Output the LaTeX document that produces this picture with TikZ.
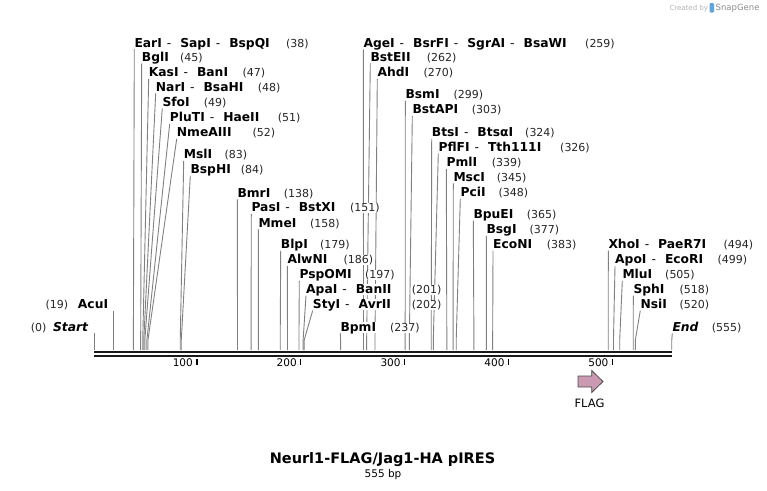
\documentclass[tikz,border=0pt]{standalone}
\usepackage{fontspec}
\setmainfont{DejaVu Sans}
\usetikzlibrary{backgrounds}

\definecolor{cutgray}{RGB}{128,128,128}
\definecolor{flagpink}{RGB}{204,153,179}
\definecolor{snapblue}{RGB}{95,165,220}
\newcommand\enzfont{\fontsize{12.3}{14}\selectfont\bfseries}
\newcommand\numfont{\fontsize{11}{13}\selectfont}
\newcommand\enzsep{\hspace{5pt}\textmd{-}\hspace{9pt}}

\tikzset{
  enzyme/.style={anchor=base west, inner sep=0pt, fill=white, font=\enzfont,
    text height=9pt, text depth=2pt},
  sitenum/.style={anchor=base west, inner sep=0pt, fill=white, font=\numfont,
    text=black!85},
  cutline/.style={draw=cutgray, line width=0.9pt},
}

\begin{document}
\begin{tikzpicture}[x=1pt, y=-1pt]
  \useasboundingbox (0,0) rectangle (767,490);

  % enzyme sites: label x / label y / cut position / number x / names
  \foreach \lx/\yc/\bp/\nx/\names [count=\i] in {
      134.3/42.7/38/286/EarI\enzsep SapI\enzsep BspQI,
      141.7/56.7/45/180/BglI,
      148.7/72.3/47/242.3/KasI\enzsep BanI,
      155.7/86.7/48/257.7/NarI\enzsep BsaHI,
      162.3/101.7/49/203.7/SfoI,
      169.7/117.3/51/277.7/PluTI\enzsep HaeII,
      176.7/132.3/52/252.3/NmeAIII,
      183.7/154.3/83/224.3/MslI,
      190.3/169.3/84/240.7/BspHI,
      237.3/192.7/138/283.7/BmrI,
      251.3/207.3/151/350/PasI\enzsep BstXI,
      258.3/222.7/158/310/MmeI,
      280.7/244/179/320/BlpI,
      287.3/259.3/186/343.3/AlwNI,
      299.3/274.3/197/365/PspOMI,
      306/289/201/411.7/ApaI\enzsep BanII,
      312.7/304/202/411.7/StyI\enzsep AvrII,
      340.3/326.7/237/390/BpmI,
      363.3/42.7/259/585/AgeI\enzsep BsrFI\enzsep SgrAI\enzsep BsaWI,
      370.3/56.7/262/426.7/BstEII,
      377.3/72.3/270/423.3/AhdI,
      405.3/94/299/453.3/BsmI,
      412.3/109.3/303/471.7/BstAPI,
      431.7/132.3/324/525/BtsI\enzsep BtsαI,
      438.3/146.7/326/560/PflFI\enzsep Tth111I,
      446.3/162.3/339/491.7/PmlI,
      453.3/176.7/345/496.7/MscI,
      460.3/192.3/348/498.3/PciI,
      473.3/214/365/526.7/BpuEI,
      486.3/229.3/377/529.3/BsgI,
      493/244/383/546.7/EcoNI,
      608.3/244/494/723.3/XhoI\enzsep PaeR7I,
      615/259.3/499/717.3/ApoI\enzsep EcoRI,
      622.3/274.3/505/665/MluI,
      633.3/289/518/679.3/SphI,
      640.3/304/520/679.3/NsiI,
      672.3/326.7/555/711.7/\itshape End} {
    \node[enzyme] (enz\i) at (\lx,\yc+4.4) {\names};
    \node[sitenum] (num\i) at (\nx,\yc+4.4) {(\bp)};
    \coordinate (cut\i) at ({93.8+1.0414*\bp},340);
    \coordinate (bb\i) at ({93.8+1.0414*\bp},350);
    \begin{scope}[on background layer]
      \draw[cutline] (enz\i.south west) -- (cut\i) -- (bb\i);
    \end{scope}
  }

  % sites labelled on the left
  \node[enzyme, anchor=base east] (acu) at (108.3,308.4) {AcuI};
  \node[sitenum] (acunum) at (45.3,308.4) {(19)};
  \coordinate (acubb) at (113.6,350);
  \node[enzyme, anchor=base east] (start) at (88.3,331.1) {\itshape Start};
  \node[sitenum] (startnum) at (30.7,331.1) {(0)};
  \coordinate (startbb) at (94,350);
  \draw[cutline] (acubb |- acu.south) -- (acubb);
  \draw[cutline] (startbb |- start.south) -- (startbb);

  % sequence
  \coordinate (seqstart) at (94,352.2);
  \coordinate (seqend) at (672.3,352.2);
  \draw[line width=2.4pt, black!90] (seqstart) -- (seqend);
  \draw[line width=2pt, black!90] ([yshift=-3.6pt]seqstart) -- ([yshift=-3.6pt]seqend);
  \foreach \t in {100,200,...,500} {
    \coordinate (tick\t) at ({92.8+1.039*\t},359);
    \draw[line width=1.6pt] (tick\t) -- ++(0,5.5);
    \node[anchor=base east, inner sep=0pt, font=\fontsize{10.5}{12}\selectfont]
      (ticklab\t) at ([xshift=-3.7pt, yshift=-7pt]tick\t) {\t};
  }

  % FLAG feature
  \draw[fill=flagpink, draw=black!70, line width=0.8pt]
    (578,376) -- (591.7,376) -- (591.7,370.5) -- (603,381.5)
    -- (591.7,392.5) -- (591.7,387) -- (578,387) -- cycle;
  \node[font=\fontsize{11.5}{13}\selectfont] (flag) at (589.5,403.5) {FLAG};

  % title
  \node[font=\fontsize{14.5}{16}\selectfont\bfseries] (title) at (382.5,459.3)
    {Neurl1-FLAG/Jag1-HA pIRES};
  \node[font=\fontsize{10.5}{12}\selectfont] (size) at (383,474.5) {555 bp};

  % watermark
  \node[anchor=base west, inner sep=0pt, font=\fontsize{7}{8}\selectfont, text=black!30]
    (created) at (669.3,10) {Created by};
  \fill[snapblue, rounded corners=1.2pt] (709.5,3) rectangle (714,12.5);
  \node[anchor=base west, inner sep=0pt, font=\fontsize{8.5}{10}\selectfont, text=black!45]
    (snapgene) at (715.5,10.5) {SnapGene};
\end{tikzpicture}
\end{document}
